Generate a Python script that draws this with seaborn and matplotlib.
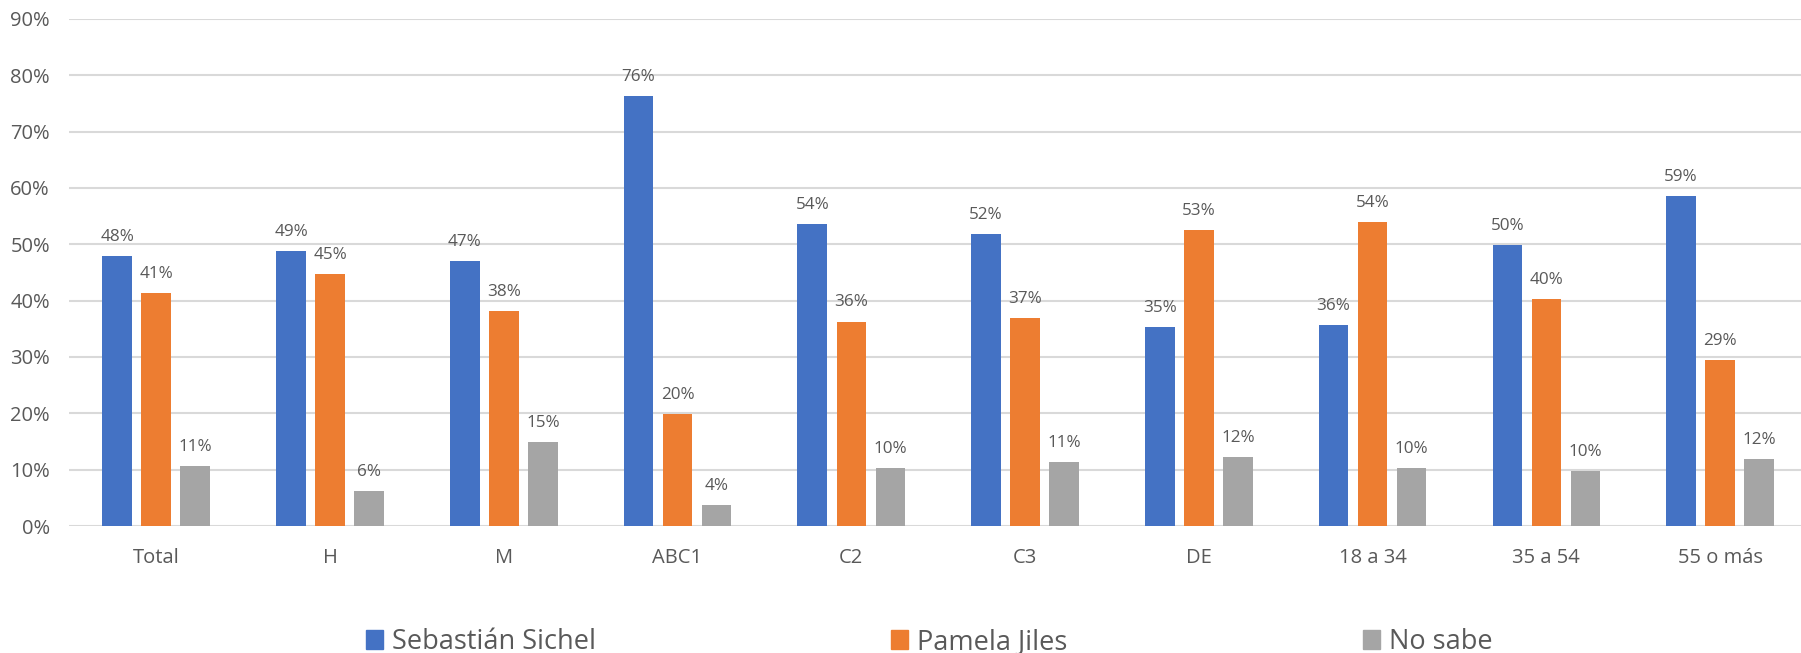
import matplotlib
matplotlib.use("Agg")
import matplotlib.pyplot as plt
import matplotlib.patches as mpatches
from matplotlib.ticker import PercentFormatter, MultipleLocator
import seaborn as sns
import pandas as pd

categories = ["Total", "H", "M", "ABC1", "C2", "C3", "DE", "18 a 34", "35 a 54", "55 o más"]
series_names = ["Sebastián Sichel", "Pamela Jiles", "No sabe"]
sichel = [47.9, 48.8, 47.0, 76.4, 53.6, 51.8, 35.3, 35.7, 49.8, 58.6]
jiles = [41.4, 44.8, 38.1, 19.9, 36.3, 36.9, 52.6, 54.0, 40.3, 29.4]
no_sabe = [10.6, 6.2, 14.9, 3.7, 10.3, 11.3, 12.3, 10.3, 9.8, 11.9]
colors = ["#4472C4", "#ED7D31", "#A5A5A5"]

rows = []
for name, vals in zip(series_names, [sichel, jiles, no_sabe]):
    for c, v in zip(categories, vals):
        rows.append({"cat": c, "serie": name, "val": v / 100})
df = pd.DataFrame(rows)

sns.set_theme(style="white")
plt.rcParams["font.family"] = ["Open Sans", "DejaVu Sans"]
txt = "#595959"

W, H = 1801, 653
fig = plt.figure(figsize=(W / 100, H / 100), dpi=100)
left, right, top, bottom = 69.4, 1807, 19, 526
ax = fig.add_axes([left / W, 1 - bottom / H, (right - left) / W, (bottom - top) / H])

sns.barplot(data=df, x="cat", y="val", hue="serie", order=categories,
            hue_order=series_names, palette=colors, width=0.6736, gap=0.241,
            saturation=1, legend=False, ax=ax, zorder=3, linewidth=0)

for cont in ax.containers:
    labels = [f"{b.get_height()*100:.0f}%" for b in cont]
    ax.bar_label(cont, labels=labels, padding=8, fontsize=12.3, color=txt)

ax.set_ylim(0, 0.9)
ax.set_xlim(-0.5, len(categories) - 0.5)
ax.yaxis.set_major_locator(MultipleLocator(0.1))
ax.yaxis.set_major_formatter(PercentFormatter(1.0, decimals=0))
ax.grid(axis="y", color="#D9D9D9", linewidth=1.5, zorder=0)
ax.set_axisbelow(True)
for s in ax.spines.values():
    s.set_visible(False)
ax.set_xlabel("")
ax.set_ylabel("")
ax.tick_params(axis="y", length=0, pad=14, labelsize=14.5, labelcolor=txt)
ax.tick_params(axis="x", length=0, pad=16, labelsize=14.5, labelcolor=txt)

handles = [mpatches.Patch(color=c, label=n) for c, n in zip(colors, series_names)]
fig.legend(handles=handles, loc="center left", bbox_to_anchor=(366 / W, 0.017), ncol=3,
           frameon=False, fontsize=19.5, handlelength=0.63, handleheight=0.70,
           handletextpad=0.33, columnspacing=10.9, labelcolor=txt,
           borderpad=0, borderaxespad=0)

fig.savefig("out.png", dpi=100)
